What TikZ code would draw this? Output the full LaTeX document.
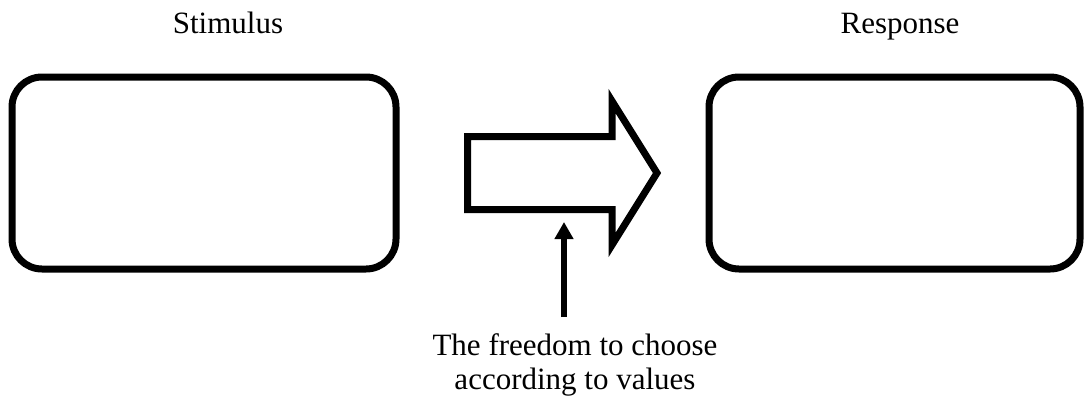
\documentclass[tikz,border=0pt]{standalone}
\usepackage{fontspec}
\setmainfont{Liberation Serif}
\usetikzlibrary{arrows.meta}
\tikzset{
    framebox/.style={line width=7pt, rounded corners=30pt},
    bigarrow/.style={line width=7pt, miter limit=10},
    caption/.style={font=\fontsize{31}{34}\selectfont, inner sep=0pt}
}
\begin{document}
\begin{tikzpicture}[x=1pt,y=-1pt]
    \useasboundingbox (0,0) rectangle (1084,400);
    \coordinate (S1) at (12,77);
    \coordinate (S2) at (396,269);
    \coordinate (R1) at (709,77);
    \coordinate (R2) at (1080,269);
    \draw[framebox] (S1) rectangle (S2);
    \draw[framebox] (R1) rectangle (R2);
    \node[caption,anchor=base] (stim) at (228,33) {Stimulus};
    \node[caption,anchor=base] (resp) at (900,33) {Response};
    \draw[bigarrow]
        (467.5,136.5) -- (612,136.5) -- (612,101) -- (657,173)
        -- (612,245) -- (612,209.5) -- (467.5,209.5) -- cycle;
    \coordinate (tip) at (564,222);
    \coordinate (foot) at (564,317);
    \node[caption,align=center,anchor=north] (free) at (575,333.5)
        {The freedom to choose\\according to values};
    \draw[line width=6pt,-{Triangle[width=18pt,length=17pt]}]
        (foot) -- (tip);
\end{tikzpicture}
\end{document}
